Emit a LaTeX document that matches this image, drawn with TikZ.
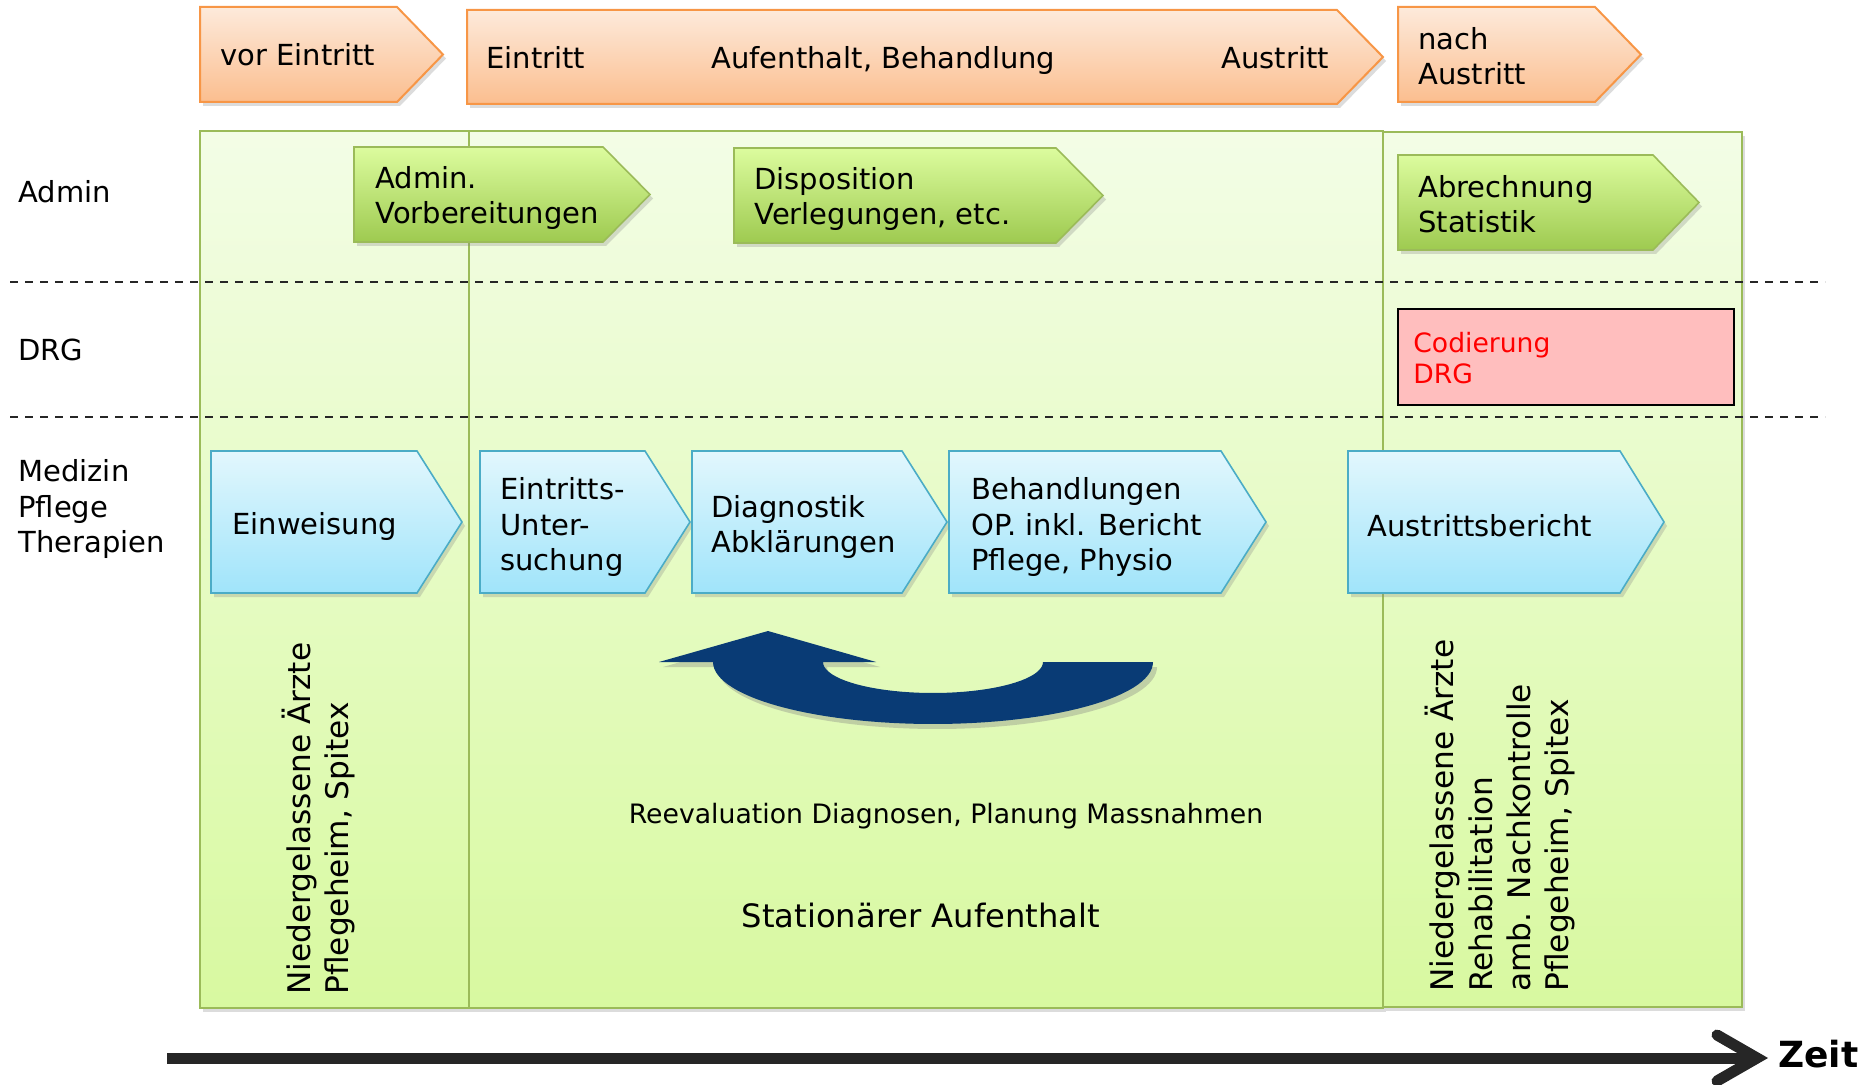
\documentclass[tikz,border=0pt]{standalone}
\usepackage{fontspec}
\setmainfont{DejaVu Sans}
\usetikzlibrary{shadows}
\definecolor{orline}{RGB}{247,150,70}
\definecolor{ortop}{RGB}{253,234,219}
\definecolor{orbot}{RGB}{251,190,143}
\definecolor{grline}{RGB}{155,187,89}
\definecolor{grtop}{RGB}{220,252,158}
\definecolor{grbot}{RGB}{158,202,80}
\definecolor{pantop}{RGB}{243,253,230}
\definecolor{panbot}{RGB}{216,249,160}
\definecolor{blline}{RGB}{75,172,198}
\definecolor{bltop}{RGB}{226,247,253}
\definecolor{blbot}{RGB}{160,228,250}
\definecolor{navy}{RGB}{9,59,117}
\definecolor{drgfill}{RGB}{255,190,190}
\definecolor{zeitcol}{RGB}{38,38,38}
\newcommand\mainsize{\fontsize{14.5}{17.7}\selectfont}
\newcommand\bigsize{\fontsize{15.6}{19.4}\selectfont}
\newcommand\statsize{\fontsize{16.1}{19.4}\selectfont}
\newcommand\smallsize{\fontsize{13.35}{16}\selectfont}
\newcommand\drgsize{\fontsize{13.3}{15.5}\selectfont}
\newcommand\pentshape[6]{%
  \path[#1] (#2,#3) -- (#4,#3) -- (#5,{(#3+#6)/2}) -- (#4,#6) -- (#2,#6) -- cycle;}
\begin{document}
\begin{tikzpicture}[x=0.5pt,y=-0.5pt,
  shadowed/.style={drop shadow={opacity=0.28,shadow xshift=1.5pt,shadow yshift=-2pt}},
  orangebox/.style={draw=orline,line width=1pt,top color=ortop,bottom color=orbot,shadowed},
  greenbox/.style={draw=grline,line width=0.8pt,top color=grtop,bottom color=grbot,shadowed},
  bluebox/.style={draw=blline,line width=0.8pt,top color=bltop,bottom color=blbot,shadowed},
  panel/.style={draw=grline,line width=1pt,top color=pantop,bottom color=panbot,shadowed},
  lbl/.style={inner sep=0pt,anchor=west,align=left,font=\mainsize},
  blbl/.style={inner sep=0pt,anchor=base west,font=\mainsize},
  rot/.style={inner sep=0pt,anchor=base west,rotate=90,font=\bigsize},
  dashline/.style={line width=0.9pt,dash pattern=on 4pt off 3.5pt,black!85},
]
\useasboundingbox (0,0) rectangle (1868,1085);

% panels
\path[panel] (200,131) rectangle (469,1008);
\path[panel] (469,131) rectangle (1383,1008);
\path[panel] (1383,132) rectangle (1742,1007);

% dashed separators
\coordinate (d1a) at (10,282); \coordinate (d1b) at (1825,282);
\coordinate (d2a) at (10,417); \coordinate (d2b) at (1825,417);
\draw[dashline] (d1a) -- (d1b);
\draw[dashline] (d2a) -- (d2b);

% top orange phase arrows
\pentshape{orangebox}{200}{7}{397}{443}{102}
\pentshape{orangebox}{467}{10}{1337}{1383}{104}
\pentshape{orangebox}{1398}{7}{1595}{1641}{102}
\node[blbl] (vor) at (220,66) {vor Eintritt};
\node[blbl] (ein) at (486,69) {Eintritt};
\node[blbl] (auf) at (711,69) {Aufenthalt, Behandlung};
\node[blbl] (aus) at (1221,69) {Austritt};
\node[lbl] (nach) at (1418,56) {nach\\Austritt};

% row labels
\node[lbl] (radmin) at (18,192) {Admin};
\node[lbl] (rdrg) at (18,350) {DRG};
\node[lbl] (rmed) at (18,509) {Medizin\\Pflege\\Therapien};

% admin arrows
\pentshape{greenbox}{354}{147}{603}{650}{242}
\pentshape{greenbox}{734}{148}{1056}{1103}{243}
\pentshape{greenbox}{1398}{155}{1653}{1699}{250}
\node[lbl] (adm) at (375,198) {Admin.\\Vorbereitungen};
\node[lbl] (disp) at (754,199) {Disposition\\Verlegungen, etc.};
\node[lbl] (abr) at (1418,204) {Abrechnung\\Statistik};

% DRG box
\draw[line width=1.1pt,fill=drgfill] (1398,309) rectangle (1734,405);
\node[inner sep=0pt,anchor=west,align=left,font=\drgsize,text=red] (cod) at (1413,358) {Codierung\\DRG};

% blue process arrows
\pentshape{bluebox}{211}{451}{417}{462}{593}
\pentshape{bluebox}{480}{451}{645}{690}{593}
\pentshape{bluebox}{692}{451}{902}{947}{593}
\pentshape{bluebox}{949}{451}{1221}{1266}{593}
\pentshape{bluebox}{1348}{451}{1620}{1664}{593}
\node[lbl] (einw) at (232,526) {Einweisung};
\node[lbl] (eu) at (500,527) {Eintritts-\\Unter-\\suchung};
\node[lbl] (diag) at (711,527) {Diagnostik\\Abklärungen};
\node[lbl] (beh) at (971,527) {Behandlungen\\OP. inkl. Bericht\\Pflege, Physio};
\node[lbl] (ausb) at (1367,526) {Austrittsbericht};

% curved return arrow
\fill[navy,drop shadow={opacity=0.35,shadow xshift=2pt,shadow yshift=-2.5pt}]
  (659,662) -- (768,631) -- (876,662) -- (823,662)
  -- plot[domain=180:0,samples=40,variable=\t] ({933+110*cos(\t)},{662+31*sin(\t)})
  -- (1153,662)
  -- plot[domain=0:180,samples=60,variable=\t] ({933+220*cos(\t)},{662+62*sin(\t)})
  -- cycle;

\node[inner sep=0pt,font=\smallsize] (reev) at (946,816) {Reevaluation Diagnosen, Planung Massnahmen};
\node[inner sep=0pt,font=\statsize] (stat) at (921,915) {Stationärer Aufenthalt};

% rotated texts
\node[rot] (p1a) at (310,995) {Niedergelassene Ärzte};
\node[rot] (p1b) at (348,995) {Pflegeheim, Spitex};
\node[rot] (p3a) at (1453,992) {Niedergelassene Ärzte};
\node[rot] (p3b) at (1492,992) {Rehabilitation};
\node[rot] (p3c) at (1530,992) {amb. Nachkontrolle};
\node[rot] (p3d) at (1568,992) {Pflegeheim, Spitex};

% time axis
\coordinate (zs) at (167,1058);
\coordinate (ze) at (1752,1058);
\coordinate (ca) at (1717,1035);
\coordinate (ct) at (1757,1058);
\coordinate (cb) at (1717,1081);
\draw[zeitcol,line width=5.5pt] (zs) -- (ze);
\draw[zeitcol,line width=5.5pt,line cap=round,line join=miter] (ca) -- (ct) -- (cb);
\node[inner sep=0pt,anchor=base west,font=\fontsize{18}{20}\selectfont\bfseries] (zeit) at (1778,1067) {Zeit};
\end{tikzpicture}
\end{document}
